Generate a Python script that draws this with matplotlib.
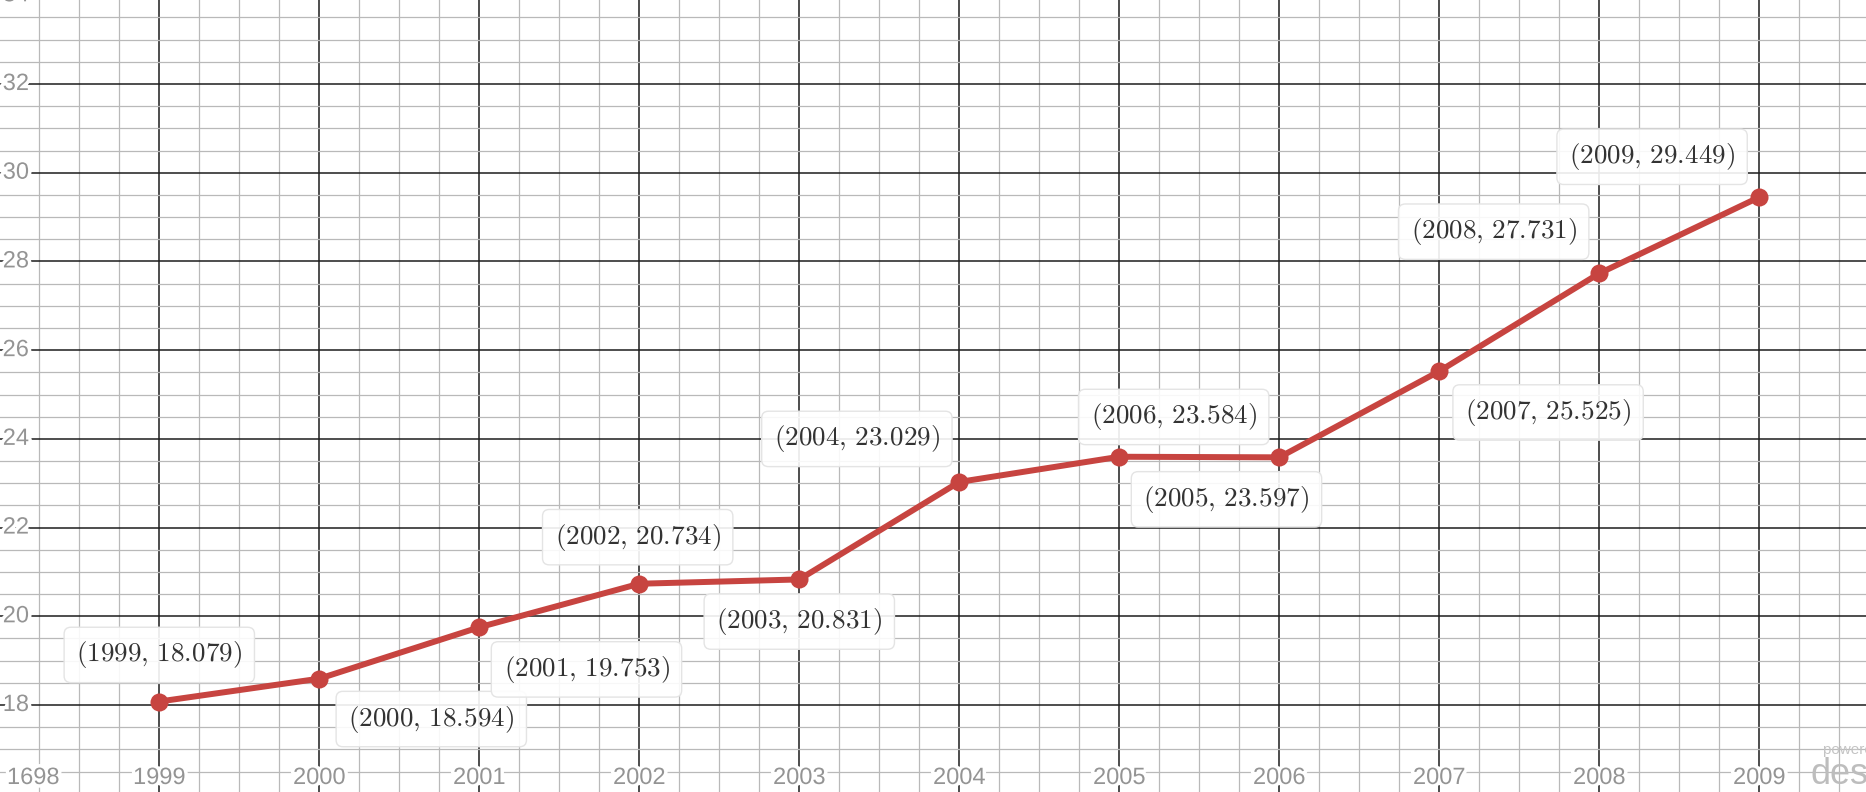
"""Desmos-style line chart: yearly values 1999-2009 with labelled points."""
import numpy as np
import matplotlib
matplotlib.use("Agg")
import matplotlib.pyplot as plt
import matplotlib.patheffects as pe
from matplotlib.ticker import MultipleLocator

years = [1999, 2000, 2001, 2002, 2003, 2004, 2005, 2006, 2007, 2008, 2009]
values = [18.079, 18.594, 19.753, 20.734, 20.831, 23.029, 23.597, 23.584, 25.525, 27.731, 29.449]

x_tick_labels = ["1698", "1999", "2000", "2001", "2002", "2003", "2004", "2005",
                 "2006", "2007", "2008", "2009"]
y_ticks = [18, 20, 22, 24, 26, 28, 30, 32, 34]

# where each point's label box sits, relative to the point (data units)
label_offsets = [(0.0, 1.05), (0.70, -0.91), (0.67, -0.95), (-0.01, 1.05),
                 (0.0, -0.95), (-0.64, 0.97), (0.67, -0.96), (-0.66, 0.91),
                 (0.68, -0.93), (-0.66, 0.94), (-0.67, 0.91)]

RED = "#c74440"
W, H = 1866, 792

plt.rcParams["mathtext.fontset"] = "cm"
fig = plt.figure(figsize=(W / 100, H / 100), dpi=100)
ax = fig.add_axes([0, 0, 1, 1])
ax.set_xlim(1998.0044, 2009.667)
ax.set_ylim(16.039, 33.894)
for s in ax.spines.values():
    s.set_visible(False)

# grid: majors every year / every 2, minors every quarter year / half unit
ax.xaxis.set_major_locator(MultipleLocator(1))
ax.xaxis.set_minor_locator(MultipleLocator(0.25))
ax.yaxis.set_major_locator(MultipleLocator(2))
ax.yaxis.set_minor_locator(MultipleLocator(0.5))
ax.grid(which="minor", color="#b9b9b9", lw=0.9)
ax.grid(which="major", color="#1c1c1c", lw=1.1)
ax.tick_params(which="both", length=0, labelbottom=False, labelleft=False)
ax.set_axisbelow(True)

halo = [pe.withStroke(linewidth=5, foreground="white")]
lab_kw = dict(color="#949494", fontsize=17, family="Liberation Sans",
              path_effects=halo, zorder=2)

# x tick labels along the bottom edge
for i, lab in enumerate(x_tick_labels):
    yr = 1998 + i
    if yr < ax.get_xlim()[0] + 0.2:
        ax.text(7 / W, 14 / H, lab, transform=ax.transAxes, ha="left",
                va="center", **lab_kw)
    else:
        ax.text(yr, 14 / H, lab, transform=ax.get_xaxis_transform(),
                ha="center", va="center", **lab_kw)

# y tick labels along the left edge
for v in y_ticks:
    ax.text(29 / W, v, str(v), transform=ax.get_yaxis_transform(),
            ha="right", va="center", **lab_kw)

ax.plot(years, values, "-o", color=RED, lw=4.3, ms=13, mew=0,
        solid_capstyle="round", zorder=3)

for yr, v, (dx, dy) in zip(years, values, label_offsets):
    ax.text(yr + dx, v + dy, rf"$({yr},\,{v:.3f})$", fontsize=19.5,
            color="#333333", ha="center", va="center", zorder=4,
            bbox=dict(boxstyle="round,pad=0.45,rounding_size=0.25",
                      fc=(1, 1, 1, 0.9), ec="#e4e4e4", lw=1.0))

# watermark, cut off by the right edge
fig.text(1823 / W, 1 - 750 / H, "powered by", color="#c4c4c4", fontsize=11,
         family="Liberation Sans", va="center", ha="left")
fig.text(1810 / W, 1 - 774 / H, "desmos", color="#bdbdbd", fontsize=26,
         family="Liberation Sans", va="center", ha="left")

fig.savefig("out.png", dpi=100)
